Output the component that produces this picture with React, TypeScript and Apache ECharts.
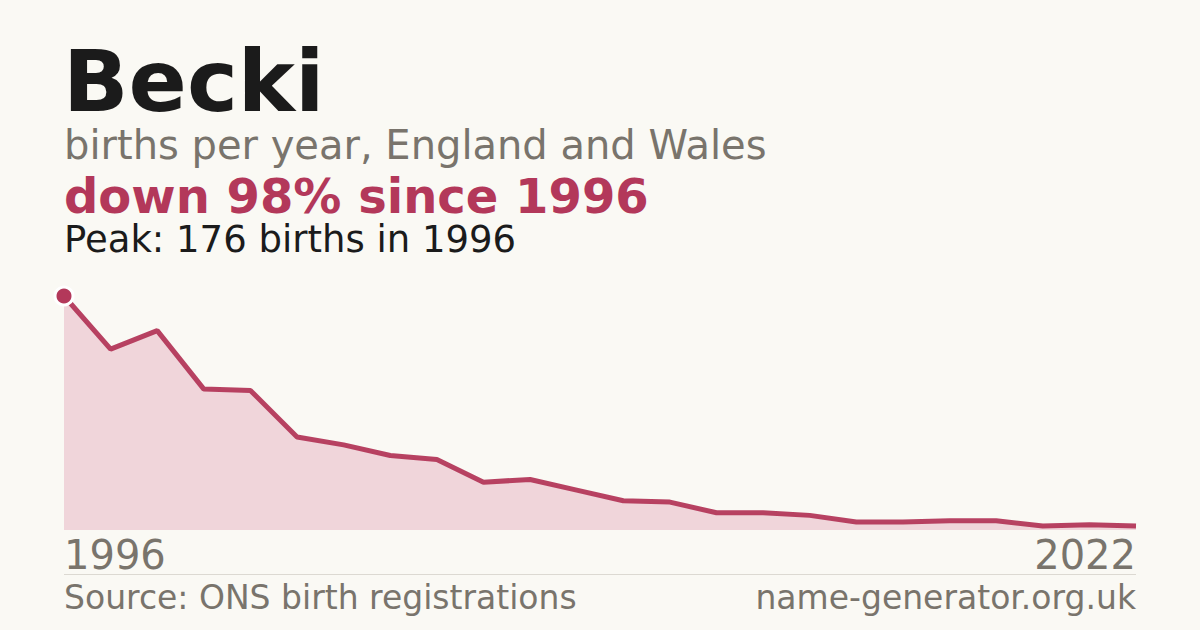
import React, { useEffect, useRef } from 'react';
import * as echarts from 'echarts';

const years = [
  '1996', '1997', '1998', '1999', '2000', '2001', '2002', '2003',
  '2004', '2005', '2006', '2007', '2008', '2009', '2010', '2011',
  '2012', '2013', '2014', '2015', '2017', '2018', '2020', '2022',
];
const births = [
  176, 136, 150, 106, 105, 70, 64, 56,
  53, 36, 38, 30, 22, 21, 13, 13,
  11, 6, 6, 7, 7, 3, 4, 3,
];
const peakYear = '1996';
const peakValue = 176;

const FONT = '"DejaVu Sans", Verdana, sans-serif';
const ACCENT = '#b3385a';
const GREY = '#79746c';

export default function App() {
  const elRef = useRef<HTMLDivElement>(null);

  useEffect(() => {
    if (!elRef.current) return;
    const chart = echarts.init(elRef.current, undefined, { renderer: 'svg' });

    chart.setOption({
      animation: false,
      backgroundColor: '#faf9f4',
      grid: { left: 64, right: 64, top: 296, bottom: 100 },
      xAxis: {
        type: 'category',
        data: years,
        boundaryGap: false,
        axisLine: { show: false },
        axisTick: { show: false },
        axisLabel: { show: false },
      },
      yAxis: {
        type: 'value',
        min: 0,
        max: peakValue,
        show: false,
        splitLine: { show: false },
      },
      series: [
        {
          type: 'line',
          data: births,
          showSymbol: false,
          lineStyle: { color: ACCENT, width: 5, opacity: 0.95 },
          areaStyle: { color: '#f0d5da', opacity: 1 },
          z: 2,
        },
        {
          type: 'scatter',
          data: [[peakYear, peakValue]],
          symbol: 'circle',
          symbolSize: 18,
          itemStyle: { color: ACCENT, borderColor: '#ffffff', borderWidth: 3, opacity: 1 },
          z: 3,
        },
      ],
      graphic: [
        {
          type: 'text', left: 63, top: 38,
          style: { text: 'Becki', font: `bold 86px ${FONT}`, fill: '#1b1b1b' },
        },
        {
          type: 'text', left: 64, top: 125,
          style: { text: 'births per year, England and Wales', font: `40px ${FONT}`, fill: GREY },
        },
        {
          type: 'text', left: 64, top: 172,
          style: { text: 'down 98% since 1996', font: `bold 48px ${FONT}`, fill: ACCENT },
        },
        {
          type: 'text', left: 64, top: 221,
          style: { text: 'Peak: 176 births in 1996', font: `37px ${FONT}`, fill: '#1b1b1b' },
        },
        {
          type: 'text', left: 64, top: 535,
          style: { text: years[0], font: `40px ${FONT}`, fill: GREY },
        },
        {
          type: 'text', right: 64, top: 535,
          style: { text: '2022', font: `40px ${FONT}`, fill: GREY, align: 'right' },
        },
        {
          type: 'line',
          shape: { x1: 64, y1: 574.5, x2: 1136, y2: 574.5 },
          style: { stroke: '#dcd9d2', lineWidth: 1 },
        },
        {
          type: 'text', left: 64, top: 581,
          style: { text: 'Source: ONS birth registrations', font: `33px ${FONT}`, fill: GREY },
        },
        {
          type: 'text', right: 64, top: 581,
          style: { text: 'name-generator.org.uk', font: `33px ${FONT}`, fill: GREY, align: 'right' },
        },
      ],
    });

    return () => chart.dispose();
  }, []);

  return <div ref={elRef} style={{ position: 'fixed', left: 0, top: 0, width: 1200, height: 630 }} />;
}
